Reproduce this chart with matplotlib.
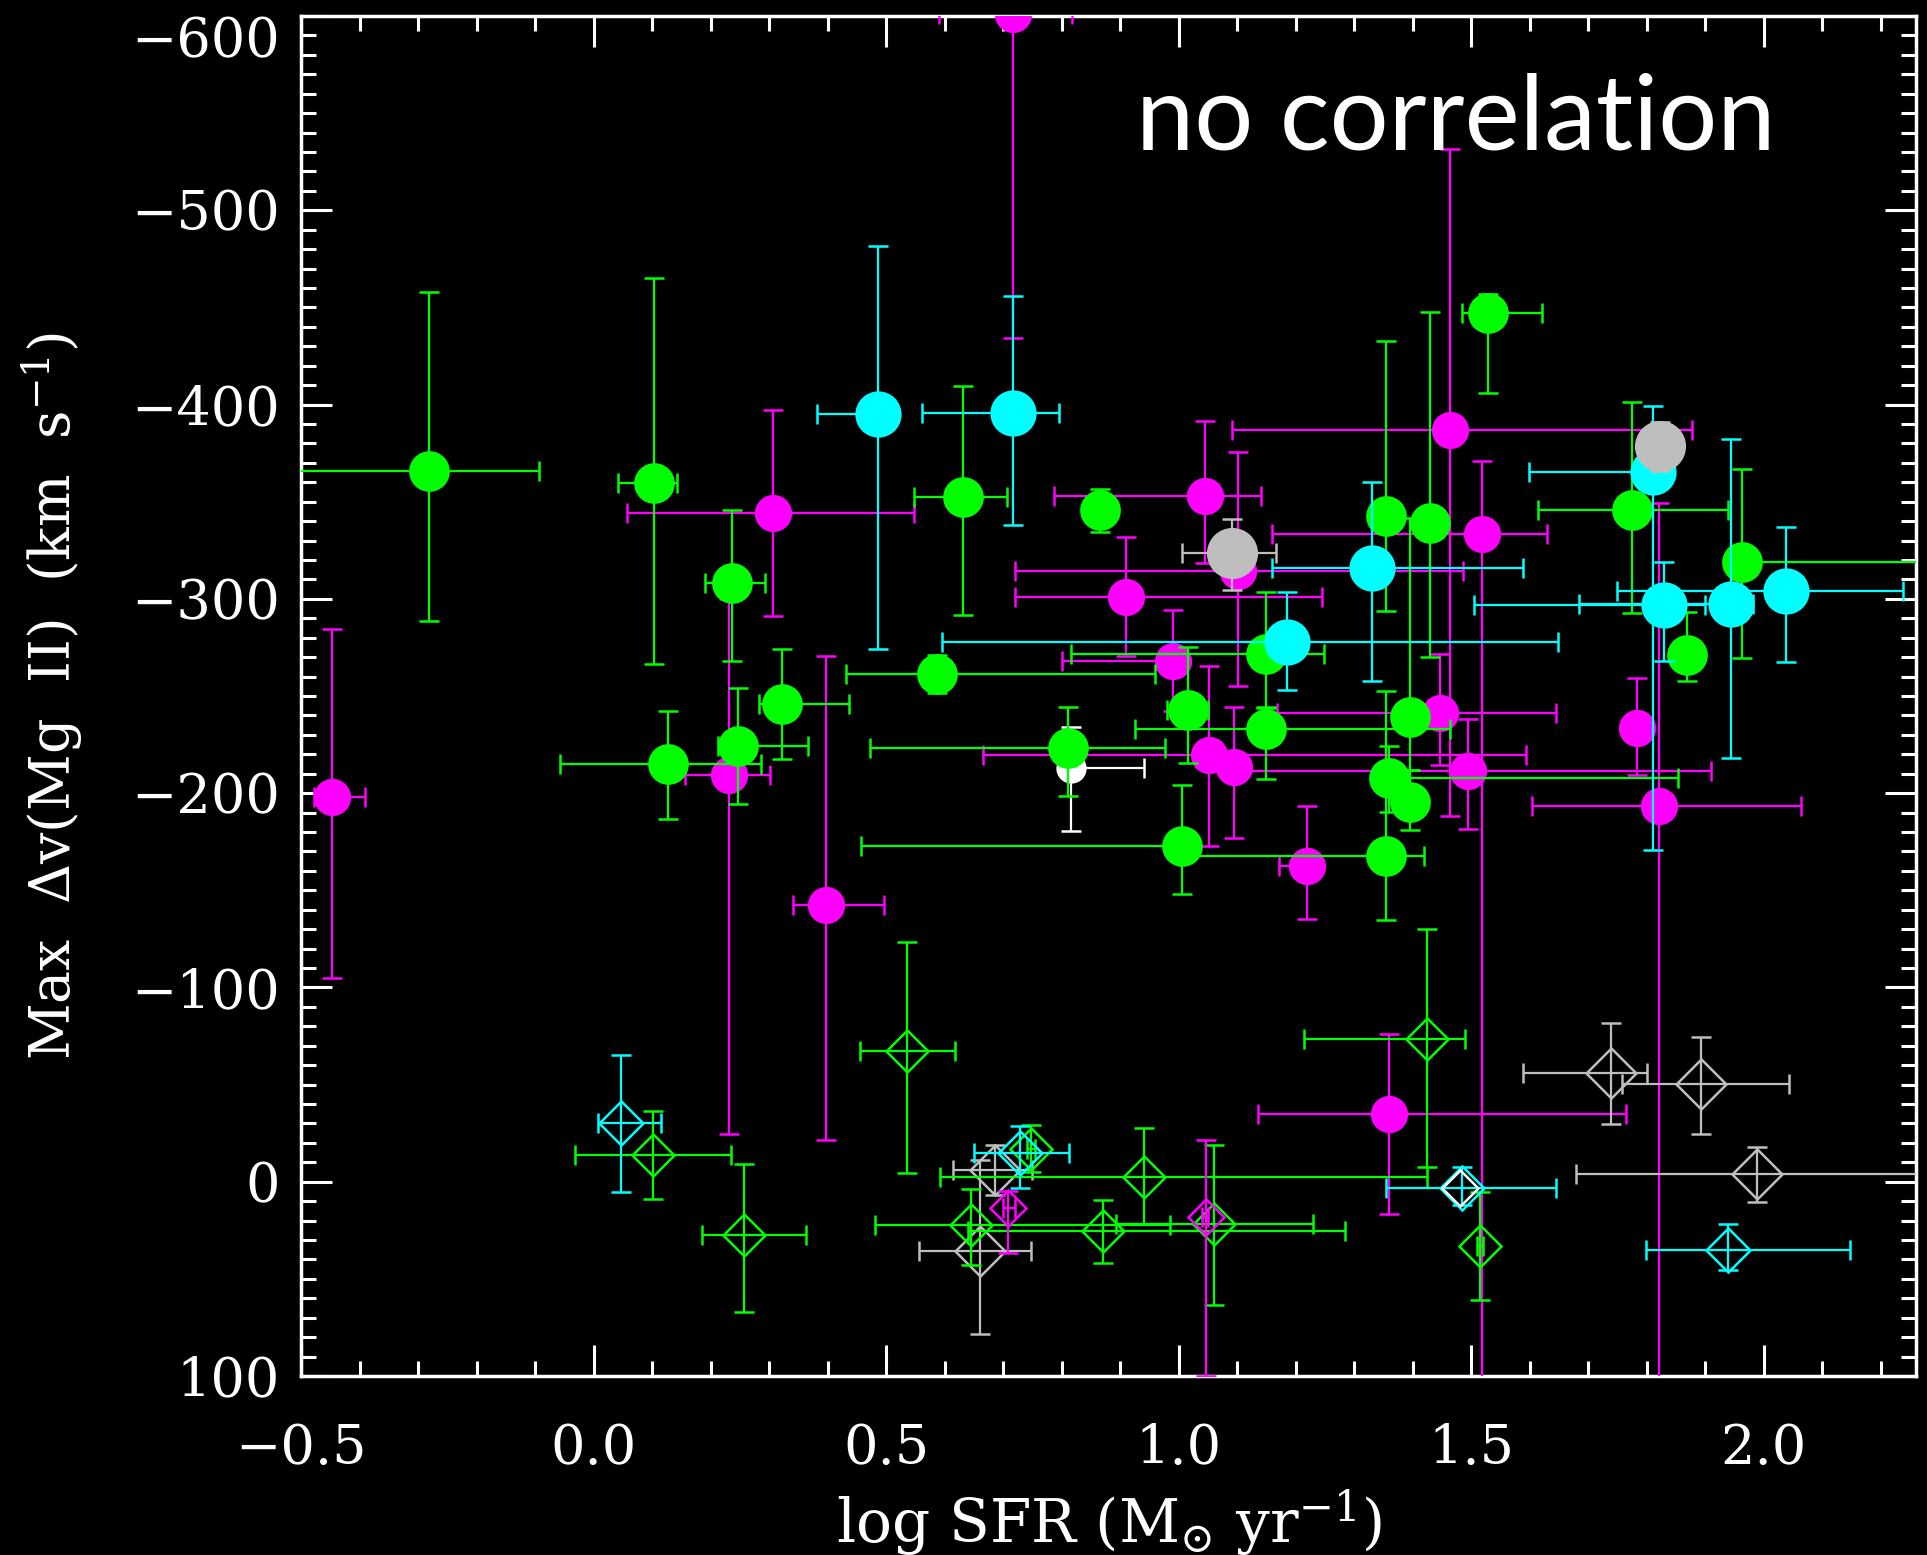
import numpy as np
import matplotlib
matplotlib.use('Agg')
import matplotlib.pyplot as plt
from matplotlib.ticker import MultipleLocator
from matplotlib.transforms import ScaledTranslation, blended_transform_factory

plt.rcParams['font.family'] = 'DejaVu Serif'
plt.rcParams['mathtext.fontset'] = 'dejavuserif'

# each group: point position, then ends of the x error bar (x0, x1)
# and ends of the y error bar (y0 = more negative end, y1 = other end)

# filled circles, green
green_x  = [-0.282, 0.103, 0.237, 0.322, 0.246, 0.127, 0.631, 0.866, 0.587, 0.811, 1.016, 1.005,
            1.150, 1.150, 1.355, 1.430, 1.395, 1.359, 1.395, 1.355, 1.529, 1.774, 1.963, 1.869]
green_y  = [-365.6, -359.7, -308.4, -245.7, -224.1, -215.0, -352.5, -345.6, -261.3, -223.5, -242.9, -172.9,
            -271.7, -233.1, -342.7, -339.3, -239.2, -207.8, -195.2, -167.8, -447.2, -345.6, -318.8, -271.0]
green_x0 = [-0.56, 0.041, 0.191, 0.283, 0.212, -0.058, 0.547, 0.846, 0.431, 0.472, 0.98, 0.457,
            0.816, 0.925, 1.34, 1.41, 1.38, 1.34, 1.38, 1.00, 1.4846, 1.614, 1.94, 1.85]
green_x1 = [-0.093, 0.142, 0.293, 0.437, 0.366, 0.286, 0.706, 0.886, 0.960, 0.976, 1.05, 1.02,
            1.249, 1.464, 1.37, 1.45, 1.41, 1.854, 1.41, 1.420, 1.620, 1.939, 2.40, 1.89]
green_y0 = [-457.7, -465.1, -345.7, -274.0, -254.0, -242.4, -409.7, -356.7, -271.0, -244.1, -275.2, -204.3,
            -303.5, -243.8, -432.9, -447.6, -341.5, -224.1, -211.7, -252.4, -457.0, -401.5, -366.6, -293.0]
green_y1 = [-288.5, -266.6, -267.8, -217.7, -194.3, -186.7, -291.9, -334.4, -251.7, -198.6, -215.5, -148.0,
            -244.1, -207.4, -294.0, -270.0, -211.7, -190.3, -181.2, -134.6, -406.1, -292.8, -269.4, -257.9]

# filled circles, magenta
mag_x  = [-0.447, 0.307, 0.232, 0.397, 0.716, 1.045, 1.101, 0.910, 0.990, 1.051, 1.095, 1.220,
          1.464, 1.519, 1.446, 1.495, 1.784, 1.820, 1.359]
mag_y  = [-198.0, -344.3, -209.2, -142.4, -601.0, -353.2, -314.5, -301.1, -268.1, -219.8, -213.4, -162.5,
          -387.0, -333.3, -241.2, -211.3, -233.3, -193.6, -35.1]
mag_x0 = [-0.477, 0.057, 0.156, 0.341, 0.591, 0.786, 0.721, 0.721, 0.800, 0.666, 1.08, 1.171,
          1.091, 1.160, 1.168, 1.10, 1.77, 1.604, 1.136]
mag_x1 = [-0.391, 0.547, 0.302, 0.497, 0.817, 1.140, 1.485, 1.245, 1.00, 1.594, 1.11, 1.24,
          1.878, 1.629, 1.644, 1.909, 1.80, 2.064, 1.765]
mag_y0 = [-284.3, -397.1, -300.0, -270.5, -700.0, -391.8, -375.6, -331.9, -294.4, -265.7, -244.1, -193.2,
          -531.6, -371.2, -271.7, -238.4, -259.1, -349.3, -76.1]
mag_y1 = [-104.7, -291.0, -24.7, -21.7, -434.1, -318.4, -255.0, -270.5, -242.1, -172.6, -176.9, -135.0,
          -188.0, 150.0, -214.6, -181.6, -209.2, 150.0, 16.5]

# filled circles, cyan
cyan_x  = [0.486, 0.716, 1.330, 1.185, 1.810, 1.829, 1.944, 2.038]
cyan_y  = [-395.0, -395.7, -316.1, -278.0, -365.2, -297.0, -297.6, -304.3]
cyan_x0 = [0.381, 0.561, 1.160, 0.596, 1.599, 1.504, 1.684, 1.749]
cyan_x1 = [0.50, 0.796, 1.589, 1.649, 1.83, 1.90, 1.981, 2.238]
cyan_y0 = [-481.4, -455.9, -360.0, -303.5, -399.2, -318.8, -382.4, -337.2]
cyan_y1 = [-274.0, -337.8, -257.8, -253.2, -170.6, -268.2, -218.2, -267.6]

# filled circles, grey
grey_x  = [1.091, 1.823]
grey_y  = [-323.4, -378.5]
grey_x0 = [1.005, 1.81]
grey_x1 = [1.166, 1.84]
grey_y0 = [-341.2, -391.0]
grey_y1 = [-304.7, -366.0]

# filled circle, white
white_x, white_y = [0.816], [-212.7]
white_x0, white_x1 = [0.80], [0.940]
white_y0, white_y1 = [-233.8], [-180.5]

# open diamonds
dcyan_x  = [0.0476, 0.728, 1.4845, 1.939]
dcyan_y  = [-30.3, -14.8, 3.0, 35.0]
dcyan_x0 = [0.008, 0.650, 1.355, 1.799]
dcyan_x1 = [0.116, 0.812, 1.644, 2.148]
dcyan_y0 = [-65.4, -28.7, -7.8, 21.5]
dcyan_y1 = [5.4, 3.0, 12.0, 45.4]

dgreen_x  = [0.102, 0.257, 0.535, 0.645, 0.940, 0.871, 1.061, 1.425, 1.515, 0.747]
dgreen_y  = [-13.6, 27.3, -67.5, 22.2, -2.5, 25.2, 21.8, -73.7, 33.3, -17.1]
dgreen_x0 = [-0.0325, 0.186, 0.455, 0.481, 0.592, 0.640, 0.892, 1.2145, 1.51, 0.74]
dgreen_x1 = [0.2355, 0.363, 0.617, 0.985, 1.425, 1.285, 1.23, 1.489, 1.52, 0.755]
dgreen_y0 = [-36.3, -9.0, -123.5, 3.7, -27.5, 9.5, -18.9, -130.0, 5.3, -29.3]
dgreen_y1 = [9.0, 67.3, -4.4, 43.0, 21.5, 41.9, 63.2, -7.8, 61.1, -5.0]

dgrey_x  = [0.686, 0.661, 1.739, 1.893, 1.988]
dgrey_y  = [-6.2, 35.6, -56.2, -50.2, -3.9]
dgrey_x0 = [0.615, 0.556, 1.589, 1.758, 1.679]
dgrey_x1 = [0.75, 0.747, 1.80, 2.043, 2.40]
dgrey_y0 = [-18.7, -11.3, -81.8, -74.4, -17.8]
dgrey_y1 = [6.7, 78.4, -29.8, -24.7, 10.2]

dmag_x  = [0.709, 1.046]
dmag_y  = [13.7, 18.3]
dmag_x0 = [0.70, 1.04]
dmag_x1 = [0.72, 1.05]
dmag_y0 = [4.9, -21.7]
dmag_y1 = [36.6, 100.0]

dwhite_x, dwhite_y = [1.480], [3.0]

GREEN, MAG, CYAN, GREY = '#00ff00', '#ff00ff', '#00ffff', '#bebebe'


def draw(ax, x, y, x0, x1, y0, y1, color, marker, ms, filled, z):
    x, y = np.array(x), np.array(y)
    xerr = [x - np.array(x0), np.array(x1) - x]
    yerr = [y - np.array(y0), np.array(y1) - y]
    ax.errorbar(x, y, xerr=xerr, yerr=yerr, fmt=marker, ms=ms, color=color,
                mfc=color if filled else 'none', mec=color, mew=1.8,
                elinewidth=1.6, capsize=7.5, capthick=1.6, zorder=z)


fig = plt.figure(figsize=(19.27, 15.55), dpi=100, facecolor='black')
ax = fig.add_axes([0.1562, 0.1151, 0.8381, 0.8746], facecolor='black')

draw(ax, mag_x, mag_y, mag_x0, mag_x1, mag_y0, mag_y1, MAG, 'o', 25, True, 3)
draw(ax, white_x, white_y, white_x0, white_x1, white_y0, white_y1, 'white', 'o', 20, True, 4)
draw(ax, green_x, green_y, green_x0, green_x1, green_y0, green_y1, GREEN, 'o', 27.5, True, 5)
draw(ax, cyan_x, cyan_y, cyan_x0, cyan_x1, cyan_y0, cyan_y1, CYAN, 'o', 31.5, True, 6)
draw(ax, grey_x, grey_y, grey_x0, grey_x1, grey_y0, grey_y1, GREY, 'o', 35, True, 7)

draw(ax, dgrey_x, dgrey_y, dgrey_x0, dgrey_x1, dgrey_y0, dgrey_y1, GREY, 'D', 25, False, 8)
draw(ax, dgreen_x, dgreen_y, dgreen_x0, dgreen_x1, dgreen_y0, dgreen_y1, GREEN, 'D', 21, False, 9)
draw(ax, dmag_x, dmag_y, dmag_x0, dmag_x1, dmag_y0, dmag_y1, MAG, 'D', 18.5, False, 10)
draw(ax, dcyan_x, dcyan_y, dcyan_x0, dcyan_x1, dcyan_y0, dcyan_y1, CYAN, 'D', 22.5, False, 11)
ax.plot(dwhite_x, dwhite_y, 'D', ms=18, mfc='none', mec='white', mew=1.8, zorder=12)

ax.set_xlim(-0.5, 2.26)
ax.set_ylim(100, -600)
ax.xaxis.set_major_locator(MultipleLocator(0.5))
ax.xaxis.set_minor_locator(MultipleLocator(0.1))
ax.yaxis.set_major_locator(MultipleLocator(100))
ax.yaxis.set_minor_locator(MultipleLocator(10))
ax.xaxis.set_major_formatter(lambda v, p: f'{v:.1f}'.replace('-', '\u2212'))
# the top label is drawn by hand below, pushed down inside the figure
ax.yaxis.set_major_formatter(lambda v, p: '' if v <= -599 else f'{v:.0f}'.replace('-', '\u2212'))

ax.tick_params(which='both', direction='in', top=True, right=True,
               colors='white', width=2.2, labelsize=39)
ax.tick_params(which='major', length=22)
ax.tick_params(which='minor', length=11)
ax.tick_params(axis='y', pad=15)
ax.tick_params(axis='x', pad=34)
for s in ax.spines.values():
    s.set_color('white')
    s.set_linewidth(2.5)

tr = blended_transform_factory(ax.transAxes, ax.transData) + \
    ScaledTranslation(-15 / 72, 0, fig.dpi_scale_trans)
ax.text(0, -600, '\u2212600', transform=tr, ha='right', va='top',
        fontsize=39, color='white', clip_on=False)

ax.set_xlabel(r'log SFR (M$_{\odot}$ yr$^{-1}$)', color='white', fontsize=43)
ax.set_ylabel(r'Max  $\Delta$v(Mg  II)  (km  s$^{-1}$)', color='white', fontsize=40)
ax.xaxis.set_label_coords(0.5, -0.082)
ax.yaxis.set_label_coords(-0.134, 0.5)

ax.text(0.517, 0.9015, 'no correlation', transform=ax.transAxes, color='white',
        fontsize=75, family='Lato', ha='left', va='baseline', zorder=20)

fig.savefig('out.png', dpi=100, facecolor='black')
